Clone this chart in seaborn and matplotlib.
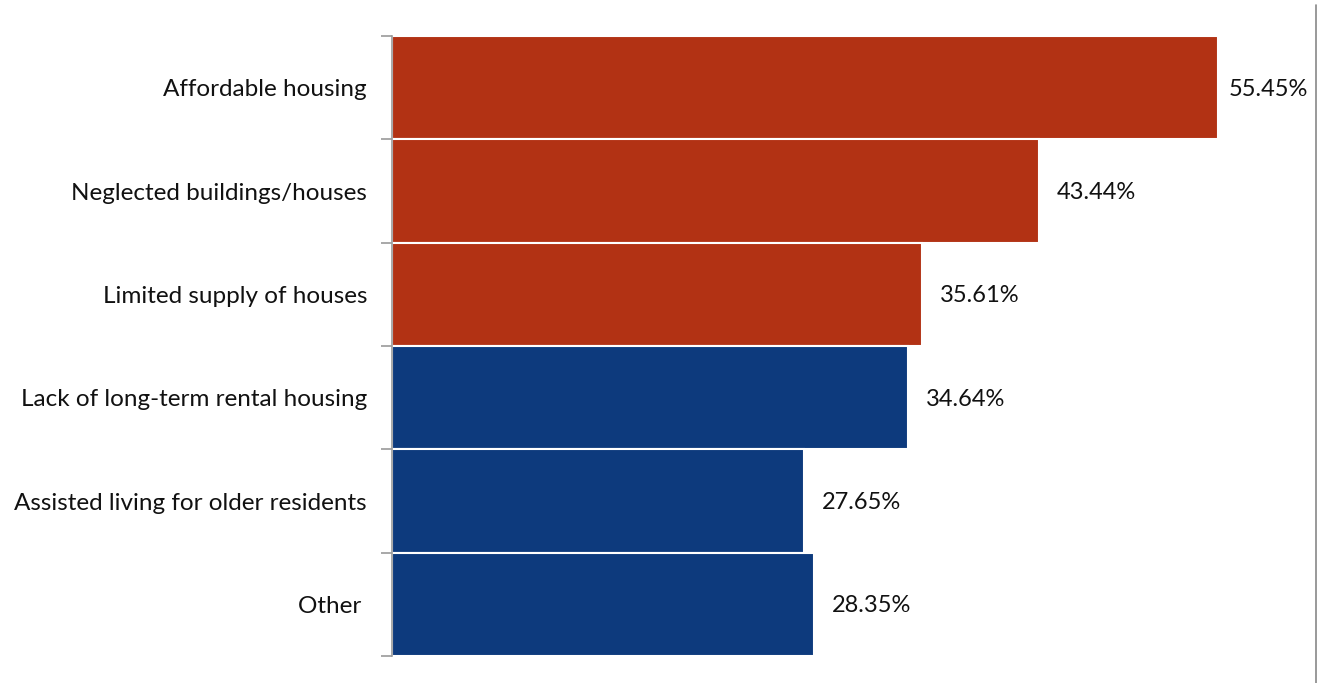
import numpy as np
import pandas as pd
import seaborn as sns
import matplotlib.pyplot as plt
from matplotlib.ticker import FixedLocator, NullFormatter
from matplotlib.lines import Line2D

# --- Data ---
categories = [
    "Affordable housing",
    "Neglected buildings/houses",
    "Limited supply of houses",
    "Lack of long-term rental housing",
    "Assisted living for older residents",
    "Other ",
]
shares = [55.45, 43.44, 35.61, 34.64, 27.65, 28.35]
groups = ["top", "top", "top", "rest", "rest", "rest"]

RED = "#B23214"
BLUE = "#0D3A7D"
AXIS_GREY = "#9A9A9A"


def main():
    df = pd.DataFrame({"category": categories, "share": shares, "group": groups})

    sns.set_style("white")
    plt.rcParams["font.family"] = ["Lato", "DejaVu Sans"]

    fig = plt.figure(figsize=(13.2, 6.83), dpi=100)
    ax = fig.add_axes([392 / 1320, 1 - 656 / 683, (1314 - 392) / 1320, 620 / 683])

    sns.barplot(
        data=df,
        y="category",
        x="share",
        hue="group",
        palette={"top": RED, "rest": BLUE},
        saturation=1,
        orient="h",
        width=1.0,
        dodge=False,
        edgecolor="white",
        linewidth=1.5,
        legend=False,
        ax=ax,
    )

    # value labels just past the bar ends (the longest one sits a bit closer)
    longest = max(shares)
    for container in ax.containers:
        for bar, v in zip(container, container.datavalues):
            if np.isnan(v):
                continue
            pad = 8 if v == longest else 13
            ax.annotate(f"{v:.2f}%", (bar.get_x() + bar.get_width(), bar.get_y() + bar.get_height() / 2),
                        xytext=(pad, -1), textcoords="offset points",
                        ha="left", va="center", fontsize=17, color="#111111")

    ax.set_xlim(0, (1314 - 392) / 14.89)
    ax.set_ylim(len(categories) - 0.5, -0.5)
    ax.set_xlabel("")
    ax.set_ylabel("")
    ax.set_xticks([])

    # category labels centred, tick marks on the boundaries
    ax.tick_params(axis="y", which="major", length=0, pad=18, labelsize=17.5, labelcolor="#111111")
    ax.yaxis.set_minor_locator(FixedLocator(np.arange(-0.5, len(categories), 1.0)))
    ax.yaxis.set_minor_formatter(NullFormatter())
    ax.tick_params(axis="y", which="minor", length=8, width=1.2, color=AXIS_GREY, left=True)

    for side in ["top", "right", "bottom"]:
        ax.spines[side].set_visible(False)
    ax.spines["left"].set_color(AXIS_GREY)
    ax.spines["left"].set_linewidth(1.2)

    # thin frame line along the right edge of the picture
    fig.add_artist(Line2D([1316 / 1320, 1316 / 1320], [0, 1 - 5 / 683],
                          transform=fig.transFigure, color="#888888", linewidth=1.2))

    fig.savefig("out.png", dpi=fig.dpi)
    plt.close(fig)


if __name__ == "__main__":
    main()
